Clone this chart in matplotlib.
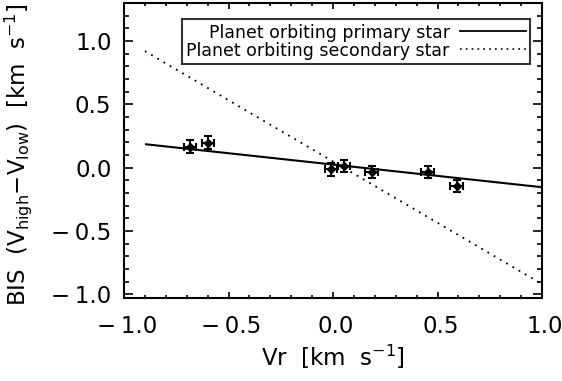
import matplotlib
matplotlib.use("Agg")
import matplotlib.pyplot as plt
import matplotlib.transforms as mtransforms
from matplotlib.ticker import MultipleLocator, FuncFormatter
from matplotlib.lines import Line2D

plt.rcParams['font.family'] = ['DejaVu Sans']
plt.rcParams['mathtext.fontset'] = 'dejavusans'

# data
vr = [-0.684, -0.598, -0.010, 0.053, 0.185, 0.453, 0.592]
bis = [0.166, 0.198, -0.013, 0.013, -0.035, -0.034, -0.145]
vr_err = [0.03, 0.03, 0.03, 0.03, 0.03, 0.03, 0.03]
bis_err = [0.05, 0.05, 0.05, 0.05, 0.05, 0.05, 0.05]

line_x = [-0.9, 1.0]
primary_y = [0.185, -0.155]
secondary_y = [0.92, -0.92]

fig = plt.figure(figsize=(5.62, 3.81), dpi=100)
ax = fig.add_axes([124/562, 1-298/381, (542-124)/562, (298-3)/381])

ax.plot(line_x, primary_y, color='black', lw=1.5, solid_capstyle='butt')
ax.plot(line_x, secondary_y, color='black', lw=1.3, ls=(0, (1, 3)))
ax.errorbar(vr, bis, xerr=vr_err, yerr=bis_err, fmt='D', color='black',
            ms=4.5, mfc='black', mec='black', ecolor='black', elinewidth=1.5,
            capsize=3, capthick=1.5)

ax.set_xlim(-1.0, 1.0)
ax.set_ylim(-1.03, 1.3)
fmt = FuncFormatter(lambda v, p: f"{v:.1f}".replace('-', '\u2212\u2009'))
ax.xaxis.set_major_locator(MultipleLocator(0.5))
ax.xaxis.set_minor_locator(MultipleLocator(0.1))
ax.yaxis.set_major_locator(MultipleLocator(0.5))
ax.yaxis.set_minor_locator(MultipleLocator(0.1))
ax.xaxis.set_major_formatter(fmt)
ax.yaxis.set_major_formatter(fmt)

ax.tick_params(axis='x', which='major', direction='in', length=4.5, width=1.2, top=True, labelsize=16.5, pad=12)
ax.tick_params(axis='x', which='minor', direction='in', length=2.5, width=1.2, top=True)
ax.tick_params(axis='y', which='major', direction='in', length=6.5, width=1.2, right=True, labelsize=16.5, pad=9)
ax.tick_params(axis='y', which='minor', direction='in', length=3.5, width=1.2, right=True)
for s in ax.spines.values():
    s.set_linewidth(1.5)

shift = mtransforms.ScaledTranslation(3/100, 0, fig.dpi_scale_trans)
for lab in ax.get_xticklabels():
    lab.set_transform(lab.get_transform() + shift)

ax.set_xlabel('Vr  [km  s$^{-1}$]', fontsize=16.5, labelpad=4)
ax.set_ylabel('BIS  (V$_{\\mathrm{high}}$\u2212V$_{\\mathrm{low}}$)  [km  s$^{-1}$]', fontsize=16.5)
ax.yaxis.set_label_coords(-0.215, 0.485)

handles = [Line2D([0], [0], color='black', lw=1.3),
           Line2D([0], [0], color='black', lw=1.2, ls=(0, (1, 2.5)))]
leg = ax.legend(handles, ['Planet orbiting primary star', 'Planet orbiting secondary star'],
                loc='upper right', bbox_to_anchor=(0.972, 0.945), fontsize=12.5,
                frameon=True, fancybox=False, edgecolor='black', markerfirst=False,
                handlelength=3.8, handletextpad=0.6, borderpad=0.25, labelspacing=0.0,
                borderaxespad=0)
leg.get_frame().set_linewidth(1.5)
for t in leg.get_texts():
    t.set_ha('right')
leg._legend_box.align = 'right'

fig.savefig('out.png', dpi=100)
